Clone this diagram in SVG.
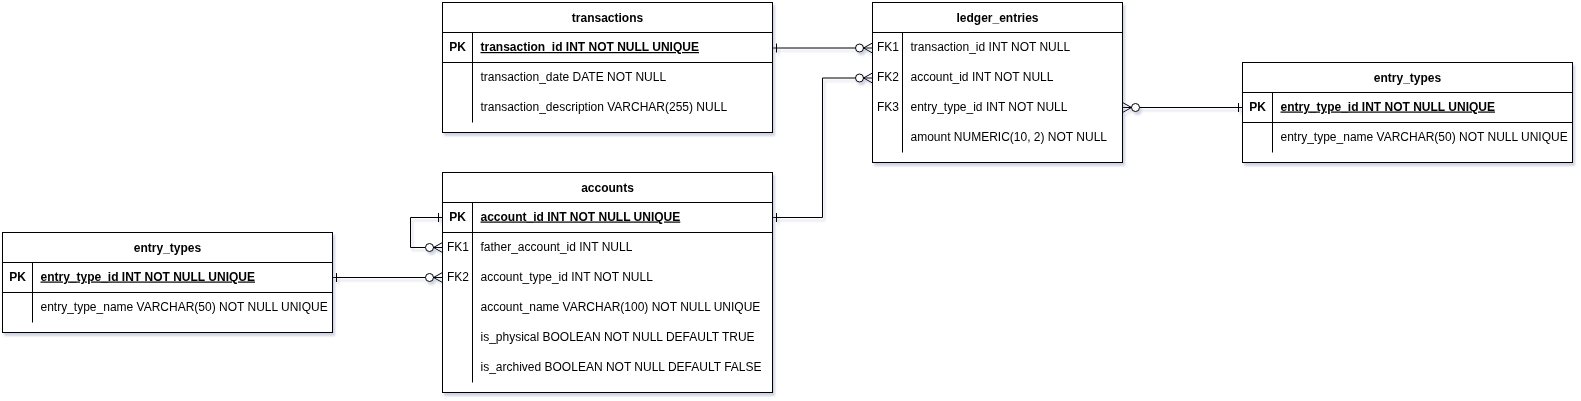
<svg xmlns="http://www.w3.org/2000/svg" width="1581" height="401" viewBox="0 0 1581 401">
<style>
.box{fill:#fff;stroke:#000;stroke-width:1}
.ln{stroke:#000;stroke-width:1;fill:none}
.t{font-family:"Liberation Sans",Arial,Helvetica,sans-serif;font-size:12px;fill:#000}
.h{text-anchor:middle;font-weight:bold}
.k{text-anchor:middle}
.pk{font-weight:bold;text-decoration:underline}
.kb{font-weight:bold}
.c{stroke:#000;stroke-width:1;fill:none}
.o{stroke:#000;stroke-width:1;fill:#fff}
</style>
<defs>
<filter id="sh" x="-5%" y="-5%" width="110%" height="115%">
<feDropShadow dx="2" dy="3" stdDeviation="1.2" flood-color="#6070a0" flood-opacity="0.3"/>
</filter>
</defs>
<rect width="1581" height="401" fill="#fff"/>

<g id="connectors" filter="url(#sh)">
<!-- transactions PK -> ledger FK1 -->
<path class="c" d="M772.5,48 H855.5"/>
<path class="c" d="M776.5,43.5 V52.5"/>
<circle class="o" cx="859.5" cy="48" r="4"/>
<path class="c" d="M872.5,43 L863.5,48 L872.5,53 M863.5,48 H872.5"/>
<!-- accounts PK -> ledger FK2 -->
<path class="c" d="M772.5,217.5 H822.5 V78 H855.5"/>
<path class="c" d="M776.5,213 V222"/>
<circle class="o" cx="859.5" cy="78" r="4"/>
<path class="c" d="M872.5,73 L863.5,78 L872.5,83 M863.5,78 H872.5"/>
<!-- ledger FK3 -> entry_types PK -->
<path class="c" d="M1139.5,107.5 H1242.5"/>
<path class="c" d="M1238.5,103 V112"/>
<circle class="o" cx="1135.5" cy="107.5" r="4"/>
<path class="c" d="M1122.5,102.5 L1131.5,107.5 L1122.5,112.5 M1131.5,107.5 H1122.5"/>
<!-- accounts self reference -->
<path class="c" d="M442.5,217.5 H410.5 V247.5 H425.5"/>
<path class="c" d="M438.5,213 V222"/>
<circle class="o" cx="429.5" cy="247.5" r="4"/>
<path class="c" d="M442.5,242.5 L433.5,247.5 L442.5,252.5 M433.5,247.5 H442.5"/>
<!-- entry_types (left) PK -> accounts FK2 -->
<path class="c" d="M332.5,277.5 H425.5"/>
<path class="c" d="M336.5,273 V282"/>
<circle class="o" cx="429.5" cy="277.5" r="4"/>
<path class="c" d="M442.5,272.5 L433.5,277.5 L442.5,282.5 M433.5,277.5 H442.5"/>
</g>

<g id="transactions" filter="url(#sh)">
<rect class="box" x="442.5" y="2.5" width="330" height="130"/>
<path class="ln" d="M442.5,32.5 H772.5 M442.5,62.5 H772.5 M472.5,32.5 V122.5"/>
<text class="t h" x="607.5" y="21.5">transactions</text>
<text class="t k kb" x="457.5" y="51">PK</text>
<text class="t pk" x="480.5" y="51">transaction_id INT NOT NULL UNIQUE</text>
<text class="t" x="480.5" y="81">transaction_date DATE NOT NULL</text>
<text class="t" x="480.5" y="111">transaction_description VARCHAR(255) NULL</text>
</g>

<g id="ledger_entries" filter="url(#sh)">
<rect class="box" x="872.5" y="2.5" width="250" height="160"/>
<path class="ln" d="M872.5,32.5 H1122.5 M902.5,32.5 V152.5"/>
<text class="t h" x="997.5" y="21.5">ledger_entries</text>
<text class="t k" x="888" y="51">FK1</text>
<text class="t" x="910.5" y="51">transaction_id INT NOT NULL</text>
<text class="t k" x="888" y="81">FK2</text>
<text class="t" x="910.5" y="81">account_id INT NOT NULL</text>
<text class="t k" x="888" y="111">FK3</text>
<text class="t" x="910.5" y="111">entry_type_id INT NOT NULL</text>
<text class="t" x="910.5" y="141">amount NUMERIC(10, 2) NOT NULL</text>
</g>

<g id="entry_types_right" filter="url(#sh)">
<rect class="box" x="1242.5" y="62.5" width="330" height="100"/>
<path class="ln" d="M1242.5,92.5 H1572.5 M1242.5,122.5 H1572.5 M1272.5,92.5 V152.5"/>
<text class="t h" x="1407.5" y="81.5">entry_types</text>
<text class="t k kb" x="1257.5" y="110.5">PK</text>
<text class="t pk" x="1280.5" y="110.5">entry_type_id INT NOT NULL UNIQUE</text>
<text class="t" x="1280.5" y="140.5">entry_type_name VARCHAR(50) NOT NULL UNIQUE</text>
</g>

<g id="accounts" filter="url(#sh)">
<rect class="box" x="442.5" y="172.5" width="330" height="220"/>
<path class="ln" d="M442.5,202.5 H772.5 M442.5,232.5 H772.5 M472.5,202.5 V382.5"/>
<text class="t h" x="607.5" y="191.5">accounts</text>
<text class="t k kb" x="457.5" y="220.5">PK</text>
<text class="t pk" x="480.5" y="220.5">account_id INT NOT NULL UNIQUE</text>
<text class="t k" x="458" y="250.5">FK1</text>
<text class="t" x="480.5" y="250.5">father_account_id INT NULL</text>
<text class="t k" x="458" y="280.5">FK2</text>
<text class="t" x="480.5" y="280.5">account_type_id INT NOT NULL</text>
<text class="t" x="480.5" y="310.5">account_name VARCHAR(100) NOT NULL UNIQUE</text>
<text class="t" x="480.5" y="340.5">is_physical BOOLEAN NOT NULL DEFAULT TRUE</text>
<text class="t" x="480.5" y="370.5">is_archived BOOLEAN NOT NULL DEFAULT FALSE</text>
</g>

<g id="entry_types_left" filter="url(#sh)">
<rect class="box" x="2.5" y="232.5" width="330" height="100"/>
<path class="ln" d="M2.5,262.5 H332.5 M2.5,292.5 H332.5 M32.5,262.5 V322.5"/>
<text class="t h" x="167.5" y="251.5">entry_types</text>
<text class="t k kb" x="17.5" y="280.5">PK</text>
<text class="t pk" x="40.5" y="280.5">entry_type_id INT NOT NULL UNIQUE</text>
<text class="t" x="40.5" y="310.5">entry_type_name VARCHAR(50) NOT NULL UNIQUE</text>
</g>
</svg>
